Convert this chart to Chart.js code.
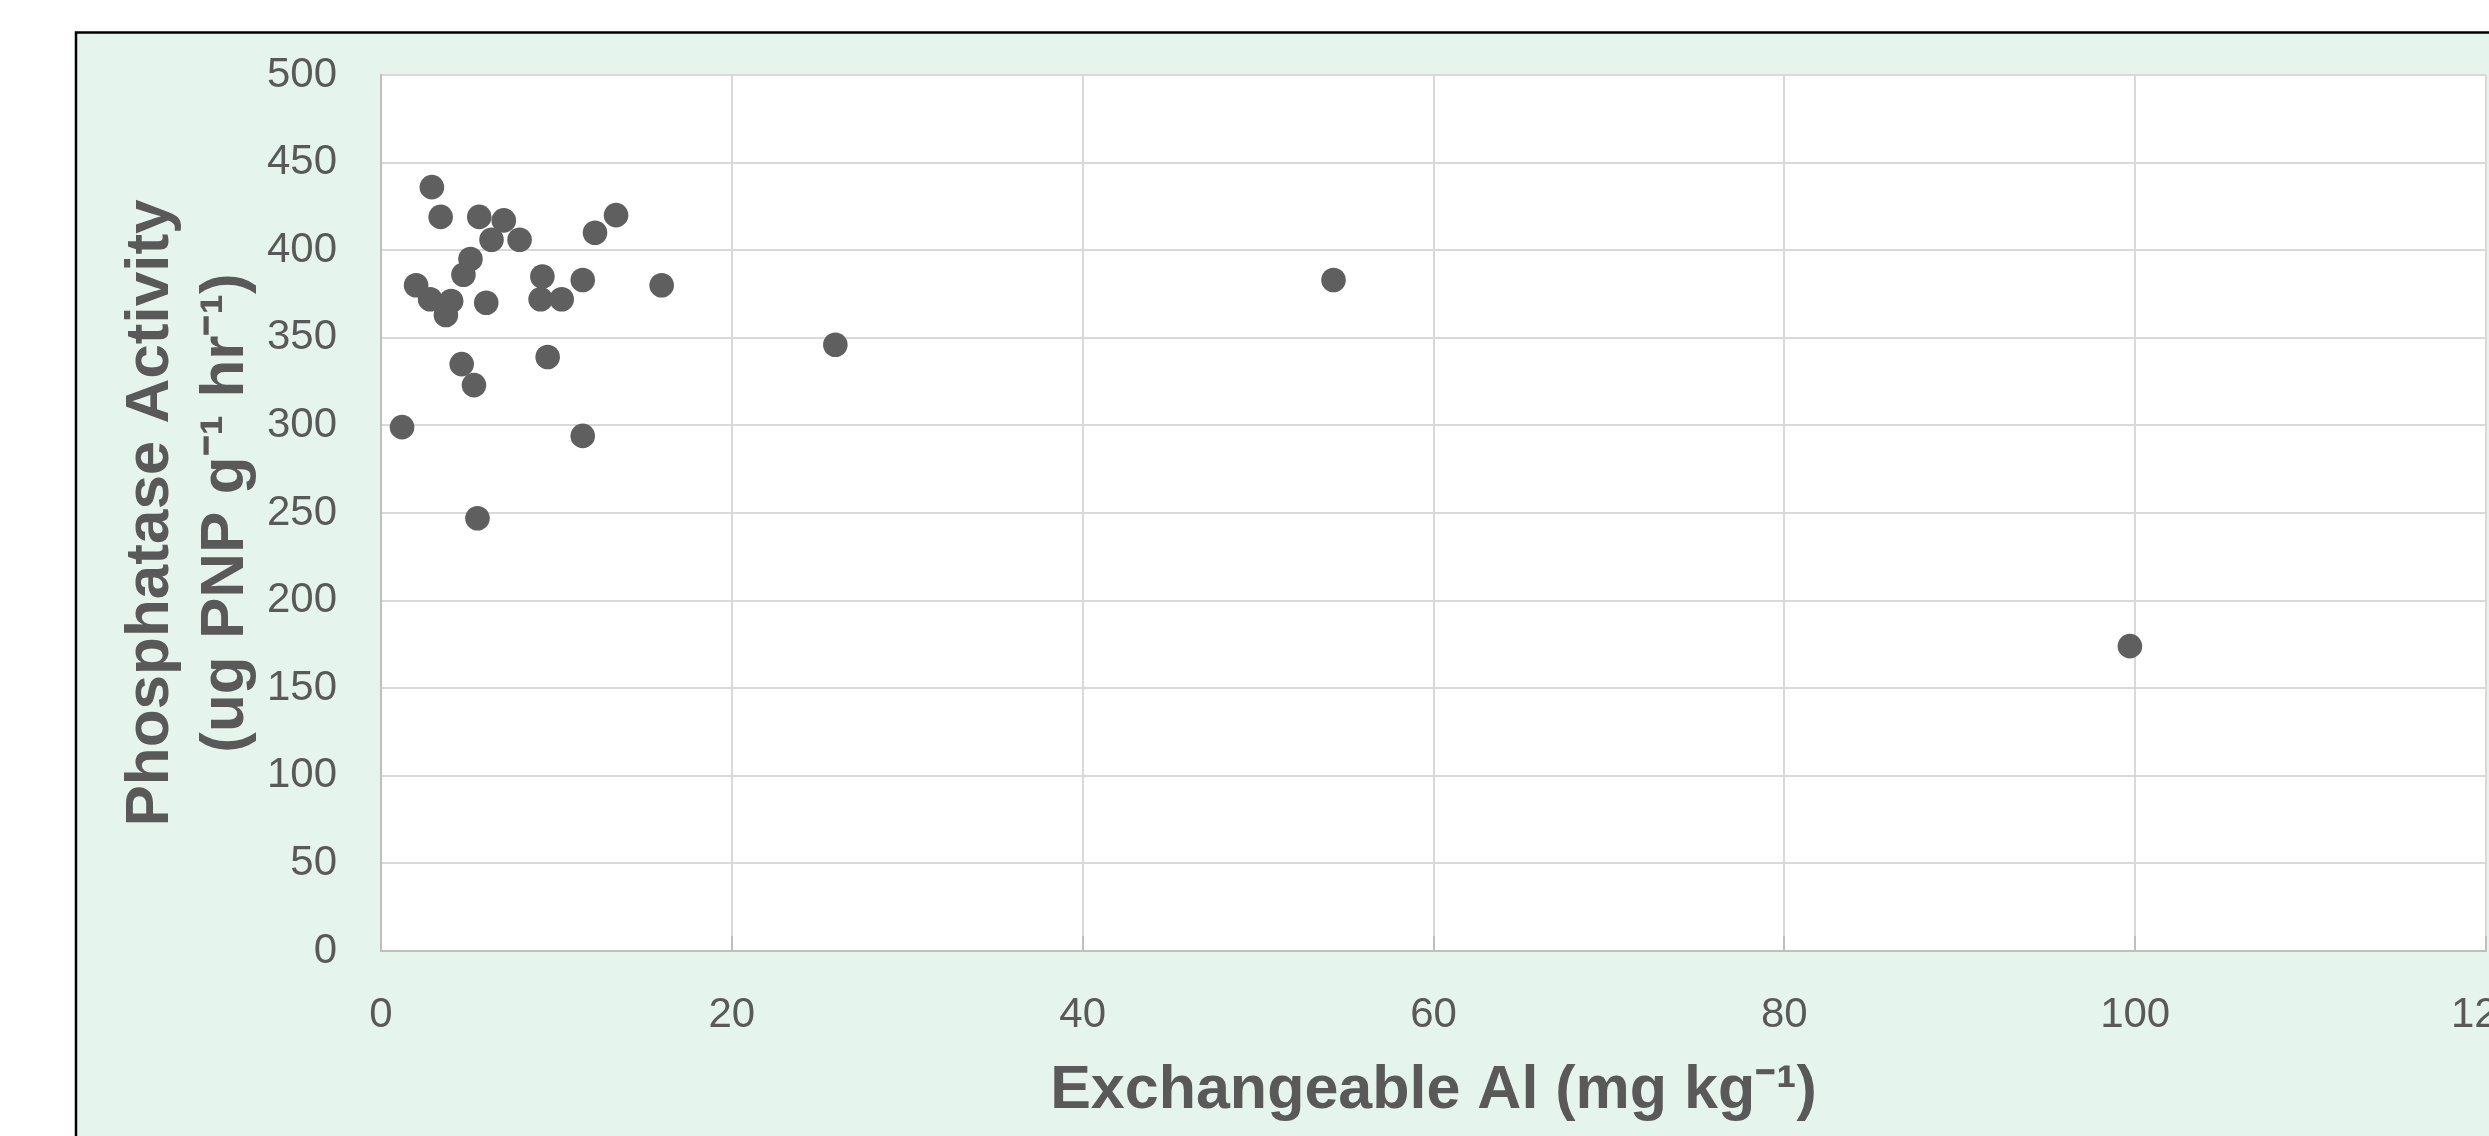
<!DOCTYPE html>
<html>
<head>
<meta charset="utf-8">
<script src="https://cdn.jsdelivr.net/npm/chart.js@4.4.1/dist/chart.umd.min.js"></script>
<style>
  html, body { margin: 0; padding: 0; background: #ffffff; }
  #wrap { width: 2489px; height: 1136px; position: relative; }
</style>
</head>
<body>
<div id="wrap"><canvas id="c"></canvas></div>
<script>
// ---- Data ----
const exchangeableAl = [1.2, 2.0, 2.9, 2.8, 3.4, 3.7, 4.0, 4.6, 4.7, 5.1, 5.3, 5.5, 5.6, 6.0, 6.3, 7.0, 7.9, 9.2, 9.1, 9.5, 10.3, 11.5, 11.5, 12.2, 13.4, 16.0, 25.9, 54.3, 99.7];
const phosphatase   = [299, 380, 436, 372, 419, 363, 371, 335, 386, 395, 323, 247, 419, 370, 406, 417, 406, 385, 372, 339, 372, 383, 294, 410, 420, 380, 346, 383, 174];
const xTitle = "Exchangeable Al (mg kg\u207B\u00B9)";
const yTitle = ["Phosphatase Activity", "(ug PNP g\u207B\u00B9 hr\u207B\u00B9)"];
const xTicks = [0, 20, 40, 60, 80, 100, 120];
const yTicks = [0, 50, 100, 150, 200, 250, 300, 350, 400, 450, 500];

const points = exchangeableAl.map((x, i) => ({ x: x, y: phosphatase[i] }));

const TEXT = '#595959';
const MINT = '#E5F5EE';

const framePlugin = {
  id: 'frame',
  beforeDraw(chart) {
    const ctx = chart.ctx;
    const W = chart.width, H = chart.height;
    ctx.save();
    ctx.fillStyle = '#ffffff';
    ctx.fillRect(0, 0, W, H);
    ctx.fillStyle = MINT;
    ctx.fillRect(76, 32.5, W - 76, H - 32.5);
    ctx.strokeStyle = '#000000';
    ctx.lineWidth = 2.5;
    ctx.beginPath();
    ctx.moveTo(76, H + 5);
    ctx.lineTo(76, 32.5);
    ctx.lineTo(W + 5, 32.5);
    ctx.stroke();
    const a = chart.chartArea;
    ctx.fillStyle = '#ffffff';
    ctx.fillRect(a.left, a.top, a.right - a.left, a.bottom - a.top);
    ctx.restore();
  },
  beforeDatasetsDraw(chart) {
    const ctx = chart.ctx;
    const xs = chart.scales.x;
    const a = chart.chartArea;
    ctx.save();
    ctx.strokeStyle = '#BFBFBF';
    ctx.lineWidth = 2;
    xTicks.forEach(v => {
      const px = Math.round(xs.getPixelForValue(v));
      ctx.beginPath();
      ctx.moveTo(px, a.bottom - 15);
      ctx.lineTo(px, a.bottom);
      ctx.stroke();
    });
    ctx.restore();
  }
};

new Chart(document.getElementById('c'), {
  type: 'scatter',
  data: {
    datasets: [{
      data: points,
      backgroundColor: '#5F5F5F',
      borderColor: '#5F5F5F',
      borderWidth: 0,
      pointRadius: 12.3,
      pointHoverRadius: 12.3
    }]
  },
  options: {
    responsive: true,
    maintainAspectRatio: false,
    animation: false,
    devicePixelRatio: 1,
    layout: { autoPadding: false, padding: { left: 0, top: 75, right: 3, bottom: 0 } },
    plugins: { legend: { display: false }, tooltip: { enabled: false } },
    scales: {
      x: {
        type: 'linear',
        min: 0, max: 120,
        afterBuildTicks(scale) { scale.ticks = xTicks.map(v => ({ value: v })); },
        afterFit(scale) { scale.height = 185; scale.paddingLeft = 0; scale.paddingRight = 0; },
        ticks: {
          color: TEXT,
          font: { family: '"Liberation Sans", Arial, sans-serif', size: 42, lineHeight: 1.2 },
          padding: 39,
          maxRotation: 0,
          autoSkip: false
        },
        grid: { color: '#D9D9D9', lineWidth: 2, drawTicks: false },
        border: { color: '#BFBFBF', width: 2 },
        title: {
          display: true,
          text: xTitle,
          color: TEXT,
          font: { family: '"Liberation Sans", Arial, sans-serif', size: 61, weight: 'bold', lineHeight: 1.2 },
          padding: { top: 0, bottom: 8 }
        }
      },
      y: {
        type: 'linear',
        min: 0, max: 500,
        afterBuildTicks(scale) { scale.ticks = yTicks.map(v => ({ value: v })); },
        afterFit(scale) { scale.width = 381; },
        ticks: {
          color: TEXT,
          font: { family: '"Liberation Sans", Arial, sans-serif', size: 42, lineHeight: 1.2 },
          padding: 44,
          autoSkip: false
        },
        grid: { color: '#D9D9D9', lineWidth: 2, drawTicks: false },
        border: { color: '#BFBFBF', width: 2 },
        title: {
          display: true,
          text: yTitle,
          color: TEXT,
          font: { family: '"Liberation Sans", Arial, sans-serif', size: 62, weight: 'bold', lineHeight: 1.213 },
          padding: { top: 113, bottom: 0 }
        }
      }
    }
  },
  plugins: [framePlugin]
});
</script>
</body>
</html>
